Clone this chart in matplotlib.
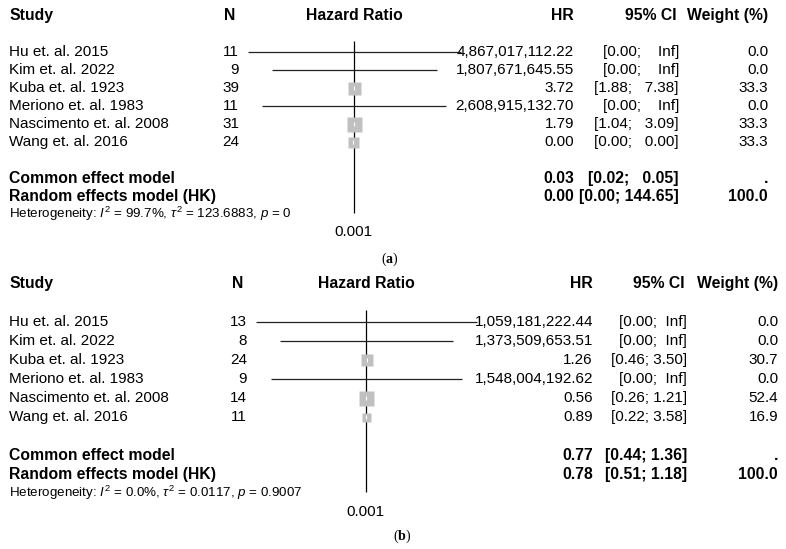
import numpy as np
import matplotlib.pyplot as plt

plt.rcParams["font.family"] = ["Liberation Sans", "DejaVu Sans"]
plt.rcParams["mathtext.fontset"] = "custom"
plt.rcParams["mathtext.rm"] = "Liberation Sans"
plt.rcParams["mathtext.it"] = "Liberation Sans:italic"
plt.rcParams["mathtext.bf"] = "Liberation Serif:bold"

W, H = 786, 549

studies = ["Hu et. al. 2015", "Kim et. al. 2022", "Kuba et. al. 1923",
           "Meriono et. al. 1983", "Nascimento et. al. 2008", "Wang et. al. 2016"]
pooled = ["Common effect model", "Random effects model (HK)"]

# panel (a)
n_a = [11, 9, 39, 11, 31, 24]
hr_a = [4867017112.22, 1807671645.55, 3.72, 2608915132.70, 1.79, 0.002]
lo_a = [0.0, 0.0, 1.88, 0.0, 1.04, 0.0]
hi_a = [np.inf, np.inf, 7.38, np.inf, 3.09, 0.004]
w_a = [0.0, 0.0, 33.3, 0.0, 33.3, 33.3]
pool_hr_a = [0.03, 0.002]
pool_lo_a = [0.02, 0.0]
pool_hi_a = [0.05, 144.65]
pool_w_a = [None, 100.0]
het_a = r"Heterogeneity: $I^2$ = 99.7%, $\tau^2$ = 123.6883, $p$ = 0"
# CI lines as they come out on the (huge) log10 axis
line_lo_a = [-530, -410, np.nan, -460, np.nan, np.nan]
line_hi_a = [535, 415, np.nan, 460, np.nan, np.nan]
box_a = [0, 0, 13, 0, 15, 11]

# panel (b)
n_b = [13, 8, 24, 9, 14, 11]
hr_b = [1059181222.44, 1373509653.51, 1.26, 1548004192.62, 0.56, 0.89]
lo_b = [0.0, 0.0, 0.46, 0.0, 0.26, 0.22]
hi_b = [np.inf, np.inf, 3.50, np.inf, 1.21, 3.58]
w_b = [0.0, 0.0, 30.7, 0.0, 52.4, 16.9]
pool_hr_b = [0.77, 0.78]
pool_lo_b = [0.44, 0.51]
pool_hi_b = [1.36, 1.18]
pool_w_b = [None, 100.0]
het_b = r"Heterogeneity: $I^2$ = 0.0%, $\tau^2$ = 0.0117, $p$ = 0.9007"
line_lo_b = [-553, -433, np.nan, -478, np.nan, np.nan]
line_hi_b = [552, 432, np.nan, 476, np.nan, np.nan]
box_b = [0, 0, 12, 0, 15, 9]

K = 5.0  # decades per pixel on the forest axis
VA = "center_baseline"


def fmt_hr(v):
    return f"{v:,.2f}"


def fmt_num(v):
    return "Inf" if np.isinf(v) else f"{v:.2f}"


def fmt_ci(lo, hi, width):
    return "[" + fmt_num(lo) + "; " + fmt_num(hi).rjust(width) + "]"


def draw_panel(fig, tab, y0, sp, xc, cols, n, hr, lo, hi, w,
               p_hr, p_lo, p_hi, p_w, het, l_lo, l_hi, box, label, label_y):
    fs = 11
    fb = 11.3
    row = lambda i: y0 + i * sp - 1.2
    # header
    hy = row(-2) - 1
    tab.text(9, hy, "Study", ha="left", va=VA, fontsize=fb, fontweight="bold")
    tab.text(cols["nh"], hy, "N", ha="center", va=VA, fontsize=fb, fontweight="bold")
    tab.text(xc, hy, "Hazard Ratio", ha="center", va=VA, fontsize=fb, fontweight="bold")
    tab.text(cols["hr"], hy, "HR", ha="right", va=VA, fontsize=fb, fontweight="bold")
    tab.text(cols["ci"] - 2, hy, "95% CI", ha="right", va=VA, fontsize=fb, fontweight="bold")
    tab.text(cols["w"], hy, "Weight (%)", ha="right", va=VA, fontsize=fb, fontweight="bold")

    his = [fmt_num(v) for v in list(hi) + list(p_hi)]
    width = max(len(s) for s in his)

    for i, s in enumerate(studies):
        y = row(i)
        tab.text(9, y, s, ha="left", va=VA, fontsize=fs)
        tab.text(cols["n"], y, str(n[i]), ha="right", va=VA, fontsize=fs)
        tab.text(cols["hr"], y, fmt_hr(hr[i]), ha="right", va=VA, fontsize=fs)
        tab.text(cols["ci"], y, fmt_ci(lo[i], hi[i], width), ha="right", va=VA, fontsize=fs)
        tab.text(cols["w"], y, f"{w[i]:.1f}", ha="right", va=VA, fontsize=fs)

    for j, s in enumerate(pooled):
        y = row(7 + j)
        tab.text(9, y, s, ha="left", va=VA, fontsize=fb, fontweight="bold")
        tab.text(cols["hr"], y, fmt_hr(p_hr[j]), ha="right", va=VA, fontsize=fb, fontweight="bold")
        tab.text(cols["ci"], y, fmt_ci(p_lo[j], p_hi[j], width), ha="right", va=VA,
                 fontsize=fb, fontweight="bold")
        wt = "." if p_w[j] is None else f"{p_w[j]:.1f}"
        tab.text(cols["w"], y, wt, ha="right", va=VA, fontsize=fb, fontweight="bold")

    tab.text(9, row(8.9), het, ha="left", va=VA, fontsize=9.6)
    tab.text(xc + 36, label_y, label, ha="center", va=VA, fontsize=10,
             family="Liberation Serif")

    # forest area
    xl, xr = xc - 118, xc + 118
    ytop, ybot = y0 - 2 * sp, y0 + 11 * sp
    ax = fig.add_axes([xl / W, 1 - ybot / H, (xr - xl) / W, (ybot - ytop) / H])
    ax.set_xlim((xl - xc) * K, (xr - xc) * K)
    ax.set_ylim(11, -2)
    ax.axis("off")
    ax.vlines(0, -0.62, 8.95, color="black", lw=0.9)
    ax.hlines(range(6), l_lo, l_hi, color="#222222", lw=0.9)
    ys = np.arange(6)
    est = np.log10(hr)
    for i in range(6):
        if box[i] > 0:
            ax.plot(est[i], ys[i], marker="s", ms=box[i] * 0.72, color="#c0c0c0",
                    mec="none", ls="none")
            ax.plot(est[i], ys[i], marker="|", ms=2.5, mew=0.8, color="white", ls="none")
    ax.text(np.log10(0.001), 9.9, "0.001", ha="center", va=VA, fontsize=fs)


fig = plt.figure(figsize=(W / 100, H / 100), dpi=100)
tab = fig.add_axes([0, 0, 1, 1])
tab.set_xlim(0, W)
tab.set_ylim(H, 0)
tab.axis("off")

draw_panel(fig, tab, 52, 18, 354, {"nh": 230, "n": 239, "hr": 574, "ci": 679, "w": 768},
           n_a, hr_a, lo_a, hi_a, w_a, pool_hr_a, pool_lo_a, pool_hi_a, pool_w_a,
           het_a, line_lo_a, line_hi_a, box_a, r"($\mathbf{a}$)", 257)
draw_panel(fig, tab, 322, 19, 366.5, {"nh": 238, "n": 247, "hr": 593, "ci": 687, "w": 778},
           n_b, hr_b, lo_b, hi_b, w_b, pool_hr_b, pool_lo_b, pool_hi_b, pool_w_b,
           het_b, line_lo_b, line_hi_b, box_b, r"($\mathbf{b}$)", 534)

fig.savefig("out.png", dpi=100, facecolor="white")
